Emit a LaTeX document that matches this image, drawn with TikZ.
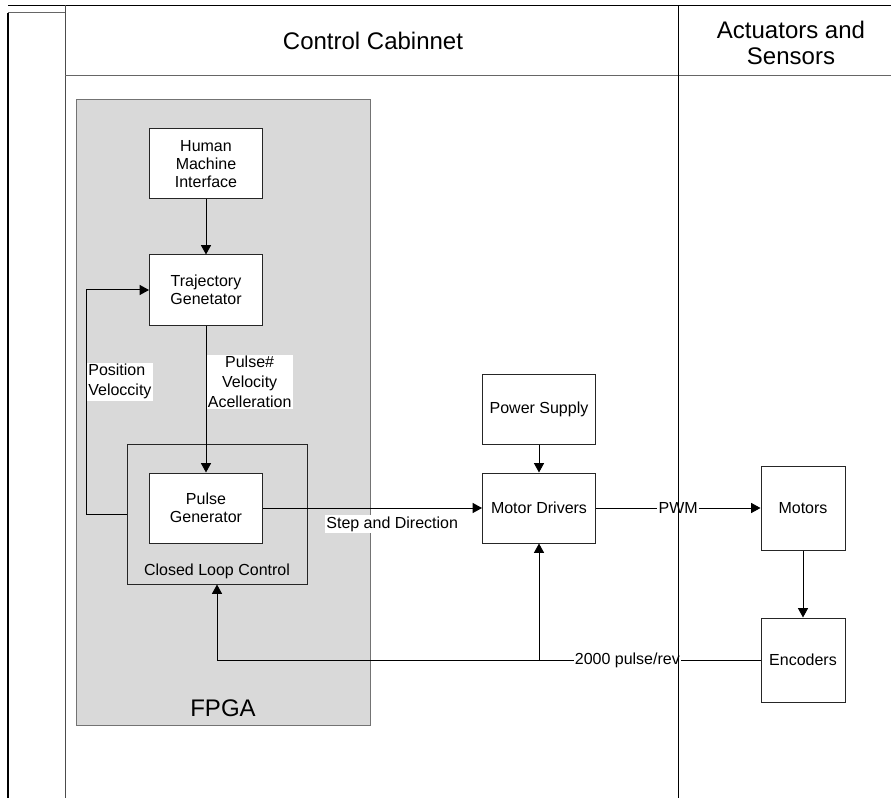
\documentclass[tikz,border=0pt]{standalone}
\usepackage{fontspec}
\setmainfont{Liberation Sans}
\usetikzlibrary{arrows.meta}
\tikzset{
	box/.style={draw=black!85, fill=white, line width=0.75pt, align=center,
			minimum width=84.75pt, minimum height=52.5pt, inner sep=1pt,
			font=\fontsize{12}{13.8}\selectfont},
	sqbox/.style={box, minimum width=63pt, minimum height=63pt},
	lbl/.style={fill=white, inner sep=1pt, align=center,
			font=\fontsize{12}{15}\selectfont},
	title/.style={align=center, inner sep=0pt, font=\fontsize{18}{20}\selectfont},
	flow/.style={-{Triangle[length=7pt,width=7.5pt]}, line width=0.75pt}
}

\begin{document}
\begin{tikzpicture}[x=0.75pt,y=-0.75pt]
	\useasboundingbox (0,0) rectangle (891,798);
	% FPGA area and closed loop frame
	\node (fpga) [draw=black!55, fill=black!15, line width=0.75pt,
		minimum width=220.5pt, minimum height=468.75pt] at (223,412.5) {};
	\node (fpgatxt) [title] at (223,708) {FPGA};
	\node (clc) [draw=black!85, line width=0.75pt,
		minimum width=135pt, minimum height=105pt] at (217,514) {};
	\node (clctxt) [lbl, fill=none] at (217,571) {Closed Loop Control};
	% blocks
	\node (hmi) [box] at (206,164) {Human\\Machine\\Interface};
	\node (traj) [box] at (206,290) {Trajectory\\Genetator};
	\node (pulse) [box] at (206,508) {Pulse\\Generator};
	\node (pwr) [box] at (539,409) {Power Supply};
	\node (drv) [box] at (539,508) {Motor Drivers};
	\node (mot) [sqbox] at (803,508) {Motors};
	\node (enc) [sqbox] at (803,660) {Encoders};
	% connectors
	\draw [flow] (hmi) -- (traj);
	\draw [flow] (traj.south) --
		node [lbl, right, pos=0.385]{Pulse\#\\Velocity\\Acelleration}
		(pulse.north);
	\draw [flow] (clc.west) -- ++(-40,0) |-
		node [lbl, right, pos=0.295, align=left]{Position\\Veloccity}
		(traj.west);
	\draw [flow] (pulse.east) --
		node [lbl, below=5pt, pos=0.59]{Step and Direction}
		(drv.west);
	\draw [flow] (pwr) -- (drv);
	\draw [flow] (drv.east) -- node [lbl, pos=0.5]{PWM} (mot.west);
	\draw [flow] (mot) -- (enc);
	\draw [flow] (enc.west) --
		node [lbl, pos=0.245]{2000 pulse/rev}
		(clc.south |- enc.west) -- (clc.south);
	\draw [flow] (drv.south |- enc.west) -- (drv.south);
	% swimlane frame
	\draw [line width=0.75pt] (8,5.5) -- (891,5.5);
	\draw [line width=0.75pt, black!60] (8,13) -- (65,13);
	\draw [line width=1.5pt] (8,13) -- (8,798);
	\draw [line width=0.75pt, black!70] (65,5.5) -- (65,798);
	\draw [line width=0.75pt, black!60] (65,76) -- (891,76);
	\draw [line width=0.75pt] (678,5.5) -- (678,798);
	\node (cabinet) [title] at (373,41) {Control Cabinnet};
	\node (actsens) [title] at (791,43) {Actuators and\\Sensors};
\end{tikzpicture}
\end{document}
